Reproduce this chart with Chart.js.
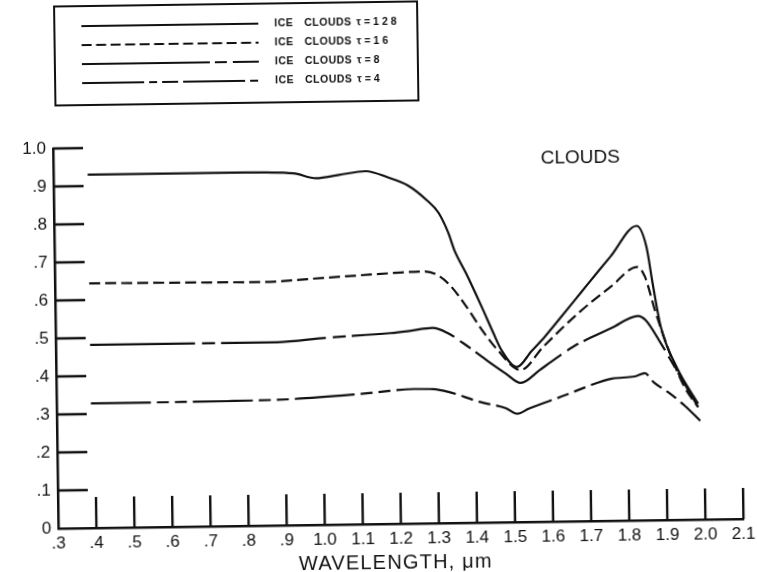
<!DOCTYPE html>
<html>
<head>
<meta charset="utf-8">
<script src="https://cdn.jsdelivr.net/npm/chart.js@4/dist/chart.umd.min.js"></script>
<style>
  html, body { margin: 0; padding: 0; background: #fff; overflow: hidden; }
  #wrap { width: 757px; height: 572px; }
  canvas { display: block; transform: rotate(-0.8deg); transform-origin: 50% 50%; }
</style>
</head>
<body>
<div id="wrap"><canvas id="c" width="757" height="572"></canvas></div>
<script>
// Reflectance of ice clouds of several optical depths vs. wavelength (µm)
const seriesLabels = ['ICE CLOUDS τ=128', 'ICE CLOUDS τ=16', 'ICE CLOUDS τ=8', 'ICE CLOUDS τ=4'];

const wl128 = [0.39, 0.50, 0.60, 0.70, 0.80, 0.93, 0.99, 1.05, 1.12, 1.18, 1.23, 1.28, 1.31, 1.335, 1.35, 1.38, 1.42, 1.45, 1.47, 1.51, 1.55, 1.585, 1.63, 1.68, 1.73, 1.76, 1.83, 1.855, 1.87, 1.89, 1.93, 1.985];
const refl128 = [0.930, 0.930, 0.930, 0.930, 0.930, 0.926, 0.912, 0.920, 0.929, 0.911, 0.890, 0.850, 0.817, 0.764, 0.719, 0.657, 0.568, 0.498, 0.454, 0.408, 0.450, 0.487, 0.540, 0.600, 0.660, 0.695, 0.775, 0.720, 0.623, 0.508, 0.402, 0.305];

const wl16 = [0.39, 0.55, 0.70, 0.84, 1.01, 1.10, 1.19, 1.27, 1.31, 1.34, 1.38, 1.42, 1.46, 1.52, 1.58, 1.673, 1.76, 1.83, 1.85, 1.875, 1.91, 1.95, 1.985];
const refl16 = [0.644, 0.643, 0.642, 0.641, 0.650, 0.655, 0.660, 0.663, 0.650, 0.623, 0.569, 0.507, 0.454, 0.400, 0.460, 0.547, 0.616, 0.667, 0.641, 0.553, 0.446, 0.349, 0.296];

const wl8 = [0.39, 0.66, 0.88, 1.01, 1.18, 1.23, 1.29, 1.33, 1.37, 1.43, 1.48, 1.52, 1.57, 1.60, 1.66, 1.71, 1.76, 1.83, 1.85, 1.89, 1.93, 1.985];
const refl8 = [0.482, 0.482, 0.482, 0.492, 0.502, 0.507, 0.514, 0.500, 0.473, 0.428, 0.392, 0.366, 0.399, 0.420, 0.460, 0.485, 0.507, 0.538, 0.527, 0.464, 0.393, 0.296];

const wl4 = [0.39, 0.75, 0.92, 1.10, 1.24, 1.29, 1.33, 1.41, 1.48, 1.51, 1.54, 1.636, 1.67, 1.72, 1.76, 1.82, 1.846, 1.87, 1.91, 1.95, 1.99];
const refl4 = [0.328, 0.329, 0.332, 0.343, 0.354, 0.353, 0.345, 0.318, 0.300, 0.285, 0.298, 0.332, 0.345, 0.363, 0.374, 0.379, 0.387, 0.362, 0.334, 0.300, 0.260];

const xTickValues = [0.3, 0.4, 0.5, 0.6, 0.7, 0.8, 0.9, 1.0, 1.1, 1.2, 1.3, 1.4, 1.5, 1.6, 1.7, 1.8, 1.9, 2.0, 2.1];
const yTickValues = [0, 0.1, 0.2, 0.3, 0.4, 0.5, 0.6, 0.7, 0.8, 0.9, 1.0];

const INK = '#111';
const FONT = "'Liberation Sans', Arial, Helvetica, sans-serif";

const toPoints = (xs, ys) => xs.map((v, i) => ({ x: v, y: ys[i] }));

// line patterns: plain, short dashes, long-short, long-short-short
const plotDash = [[], [11, 5], [105, 7, 13, 6], [60, 6, 12, 6, 12, 6]];
const keyDash = [[], [10, 4.5], [128, 5, 12, 6], [62, 5, 8, 5, 16, 5]];

const datasets = [
  [wl128, refl128], [wl16, refl16], [wl8, refl8], [wl4, refl4]
].map(([xs, ys], i) => ({
  label: seriesLabels[i],
  data: toPoints(xs, ys),
  borderColor: INK,
  borderWidth: 2.2,
  borderDash: plotDash[i],
  keyDash: keyDash[i],
  pointRadius: 0,
  fill: false,
  cubicInterpolationMode: 'monotone'
}));

const fmtX = v => (v < 1 ? '.' + Math.round(v * 10) : v.toFixed(1));
const fmtY = v => (v === 0 ? '0' : v >= 1 ? '1.0' : '.' + Math.round(v * 10));

// inward tick marks, the key box and the free-standing captions
const decorations = {
  id: 'decorations',
  afterDraw(chart) {
    const { ctx, scales: { x, y } } = chart;
    ctx.save();
    ctx.strokeStyle = INK;
    ctx.lineCap = 'butt';
    ctx.lineWidth = 2.4;
    ctx.beginPath();
    yTickValues.forEach(v => {
      if (v === 0) return;
      const py = y.getPixelForValue(v);
      ctx.moveTo(x.left, py);
      ctx.lineTo(x.left + 30, py);
    });
    xTickValues.forEach(v => {
      if (v === 0.3) return;
      const px = x.getPixelForValue(v);
      ctx.moveTo(px, y.bottom);
      ctx.lineTo(px, y.bottom - 31);
    });
    ctx.stroke();

    // key
    ctx.lineWidth = 2;
    ctx.strokeRect(58, 2, 363, 99);
    const rows = [22, 41, 60, 79];
    const wordX = [278, 308, 360];
    chart.data.datasets.forEach((ds, i) => {
      ctx.save();
      ctx.lineWidth = 2.2;
      ctx.setLineDash(ds.keyDash);
      ctx.beginPath();
      ctx.moveTo(85, rows[i]);
      ctx.lineTo(262, rows[i]);
      ctx.stroke();
      ctx.restore();
      ctx.fillStyle = INK;
      ctx.font = 'bold 10.5px ' + FONT;
      ctx.textBaseline = 'middle';
      ctx.textAlign = 'left';
      ds.label.split(' ').forEach((word, k) => {
        ctx.letterSpacing = k === 2 ? '3px' : '0.5px';
        ctx.fillText(word, wordX[k], rows[i] + 0.5);
      });
      ctx.letterSpacing = '0px';
    });

    ctx.fillStyle = INK;
    ctx.textAlign = 'center';
    ctx.textBaseline = 'middle';
    ctx.font = '19px ' + FONT;
    ctx.fillText('CLOUDS', 582, 161);
    ctx.font = '20px ' + FONT;
    ctx.letterSpacing = '1.2px';
    ctx.fillText('WAVELENGTH, μm', 392, 563);
    ctx.restore();
  }
};

new Chart(document.getElementById('c'), {
  type: 'line',
  data: { datasets },
  options: {
    responsive: false,
    devicePixelRatio: 1,
    animation: false,
    layout: { padding: { left: 0, top: 144, right: 15, bottom: 0 } },
    plugins: { legend: { display: false }, tooltip: { enabled: false } },
    scales: {
      x: {
        type: 'linear',
        min: 0.3,
        max: 2.1,
        afterBuildTicks: s => { s.ticks = xTickValues.map(v => ({ value: v })); },
        afterFit: s => { s.height = 48; },
        grid: { display: false, drawTicks: false },
        border: { display: true, color: INK, width: 2.5 },
        ticks: { padding: 5, maxRotation: 0, autoSkip: false, color: INK, font: { family: FONT, size: 17 }, callback: fmtX }
      },
      y: {
        type: 'linear',
        min: 0,
        max: 1.0,
        afterBuildTicks: s => { s.ticks = yTickValues.map(v => ({ value: v })); },
        afterFit: s => { s.width = 55; },
        grid: { display: false, drawTicks: false },
        border: { display: true, color: INK, width: 2.5 },
        ticks: { padding: 7, autoSkip: false, color: INK, font: { family: FONT, size: 17 }, callback: fmtY }
      }
    }
  },
  plugins: [decorations]
});
</script>
</body>
</html>
